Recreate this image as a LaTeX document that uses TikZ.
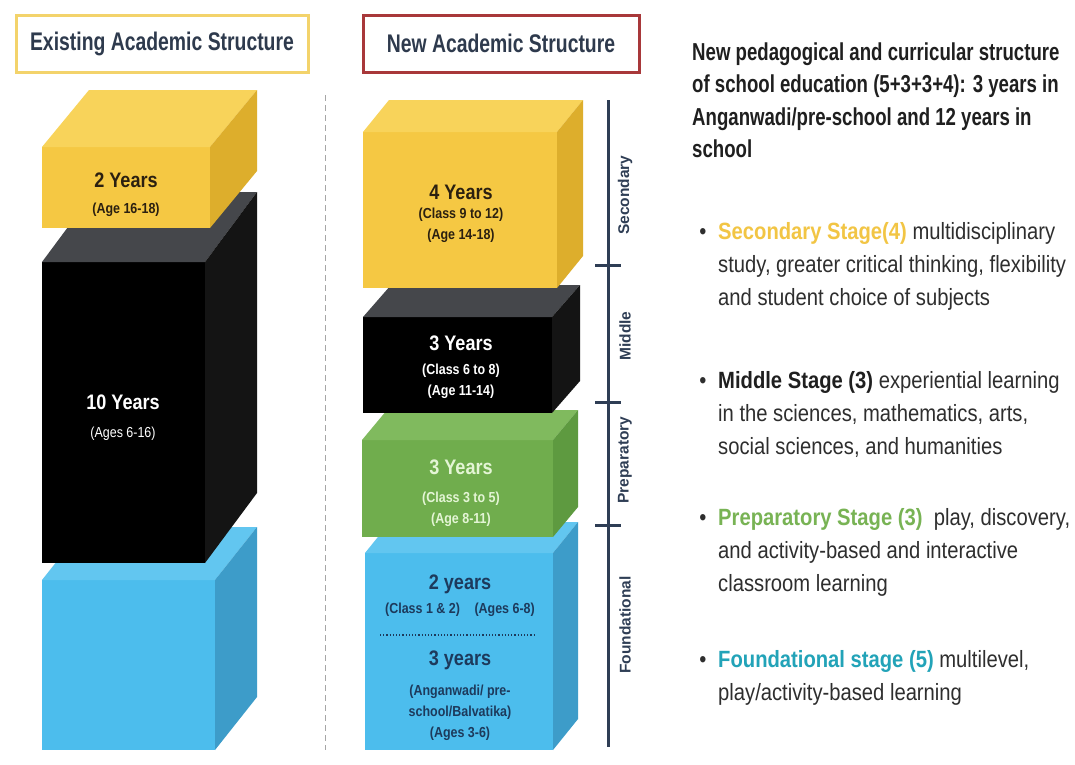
\documentclass[tikz,border=0pt]{standalone}
\usepackage{fontspec}
\setmainfont{Liberation Sans}[FakeStretch=0.86]
\newfontfamily\condfont{Liberation Sans}[FakeStretch=0.76]
\newfontfamily\axisfont{Liberation Sans}

\definecolor{hdrtext}{HTML}{2E3A4D}
\definecolor{oldframe}{HTML}{F3D36B}
\definecolor{newframe}{HTML}{A8383A}
\definecolor{ylwfront}{HTML}{F5C843}
\definecolor{ylwtop}{HTML}{F8D35A}
\definecolor{ylwside}{HTML}{DDAE2C}
\definecolor{blkfront}{HTML}{000000}
\definecolor{blktop}{HTML}{45474B}
\definecolor{blkside}{HTML}{141414}
\definecolor{blufront}{HTML}{4CBDED}
\definecolor{blutop}{HTML}{62C6F0}
\definecolor{bluside}{HTML}{3D9CC9}
\definecolor{grnfront}{HTML}{70AD4D}
\definecolor{grntop}{HTML}{80BA5E}
\definecolor{grnside}{HTML}{5E9A40}
\definecolor{ylwtext}{HTML}{2B2010}
\definecolor{blutext}{HTML}{1D3A5C}
\definecolor{grntext}{HTML}{E4F5D5}
\definecolor{axiscol}{HTML}{2F3E55}
\definecolor{bodytext}{HTML}{2E2E2E}
\definecolor{titletext}{HTML}{1F1F1F}
\definecolor{secgold}{HTML}{F2C544}
\definecolor{prepgreen}{HTML}{78B354}
\definecolor{foundteal}{HTML}{22A3B8}

\tikzset{
  hdr/.style={line width=3pt,fill=white,minimum width=292pt,minimum height=57pt,
    font=\condfont\bfseries\fontsize{25.5}{30}\selectfont,text=hdrtext},
  yrs/.style={anchor=base,inner sep=0pt,font=\bfseries\fontsize{21}{24}\selectfont},
  sub/.style={anchor=base,inner sep=0pt,align=center,font=\bfseries\fontsize{14.5}{21}\selectfont},
  stage/.style={rotate=90,inner sep=0pt,text=axiscol,font=\axisfont\bfseries\fontsize{15.5}{18}\selectfont},
  body/.style={anchor=base west,inner sep=0pt,align=left,text=bodytext,
    font=\fontsize{23.5}{33}\selectfont},
  dot/.style={anchor=base,inner sep=0pt,text=bodytext,font=\fontsize{23.5}{33}\selectfont},
}

\begin{document}
\begin{tikzpicture}[x=1pt,y=-1pt]
 \fill[white] (0,0) rectangle (1075,764);
 \useasboundingbox (0,0) rectangle (1075,764);

 % headers
 \node[hdr,draw=oldframe] (oldhdr) at (162,43.5) {Existing Academic Structure};
 \node[hdr,draw=newframe,minimum width=276pt] (newhdr) at (501,43.5) {New Academic Structure};
 \draw[gray!70,dashed,dash pattern=on 6pt off 4pt] (325,95) -- (325,750);

 % existing structure
 \fill[blufront] (42,580) rectangle (215,750);
 \fill[blutop] (42,580)--(84,527)--(257,527)--(215,580)--cycle;
 \fill[bluside] (215,580)--(257,527)--(257,697)--(215,750)--cycle;
 \fill[blkfront] (42,262) rectangle (205,563);
 \fill[blktop] (42,262)--(94,192)--(257,192)--(205,262)--cycle;
 \fill[blkside] (205,262)--(257,192)--(257,493)--(205,563)--cycle;
 \fill[ylwfront] (42,147) rectangle (210,228);
 \fill[ylwtop] (42,147)--(89,90)--(257,90)--(210,147)--cycle;
 \fill[ylwside] (210,147)--(257,90)--(257,171)--(210,228)--cycle;

 \node[yrs,text=ylwtext] (old2) at (126,187) {2 Years};
 \node[sub,text=ylwtext] (old2age) at (126,213) {(Age 16-18)};
 \node[yrs,text=white] (old10) at (123,409) {10 Years};
 \node[sub,text=white,font=\fontsize{14.5}{21}\selectfont] (old10age) at (123,437) {(Ages 6-16)};

 % new structure
 \fill[blufront] (365,553) rectangle (553,750);
 \fill[blutop] (365,553)--(390,522)--(578,522)--(553,553)--cycle;
 \fill[bluside] (553,553)--(578,522)--(578,719)--(553,750)--cycle;
 \fill[grnfront] (362,440) rectangle (553,537);
 \fill[grntop] (362,440)--(387,410)--(578,410)--(553,440)--cycle;
 \fill[grnside] (553,440)--(578,410)--(578,507)--(553,537)--cycle;
 \fill[blkfront] (363,317) rectangle (552,413);
 \fill[blktop] (363,317)--(391,285)--(580,285)--(552,317)--cycle;
 \fill[blkside] (552,317)--(580,285)--(580,381)--(552,413)--cycle;
 \fill[ylwfront] (363,132) rectangle (557,288);
 \fill[ylwtop] (363,132)--(389,100)--(583,100)--(557,132)--cycle;
 \fill[ylwside] (557,132)--(583,100)--(583,256)--(557,288)--cycle;

 \node[yrs,text=ylwtext] (sec4) at (461,199) {4 Years};
 \node[sub,text=ylwtext] (sec4cls) at (461,239) {(Class 9 to 12)\\(Age 14-18)};
 \node[yrs,text=white] (mid3) at (461,350) {3 Years};
 \node[sub,text=white] (mid3cls) at (461,395) {(Class 6 to 8)\\(Age 11-14)};
 \node[yrs,text=grntext] (prep3) at (461,474) {3 Years};
 \node[sub,text=grntext] (prep3cls) at (461,523) {(Class 3 to 5)\\(Age 8-11)};
 \node[yrs,text=blutext] (fnd2) at (460,589) {2 years};
 \node[sub,text=blutext] (fnd2cls) at (460,613) {(Class 1 \& 2)\quad(Ages 6-8)};
 \draw[blutext,dotted,line width=1.2pt] (380,635) -- (535,635);
 \node[yrs,text=blutext] (fnd3) at (460,665) {3 years};
 \node[sub,text=blutext] (fnd3cls) at (460,737) {(Anganwadi/ pre-\\school/Balvatika)\\(Ages 3-6)};

 % stage axis
 \draw[axiscol,line width=3pt] (608,100) -- (608,747);
 \draw[axiscol,line width=3pt] (595,265) -- (621,265);
 \draw[axiscol,line width=3pt] (595,402) -- (621,402);
 \draw[axiscol,line width=3pt] (595,525) -- (621,525);
 \node[stage] (secl) at (625,195) {Secondary};
 \node[stage] (midl) at (625,336) {Middle};
 \node[stage] (prepl) at (625,460) {Preparatory};
 \node[stage] (fndl) at (625,625) {Foundational};

 % description
 \node[body,text=titletext,font=\condfont\bfseries\fontsize{24.5}{32.5}\selectfont] (title) at (692,157.5)
   {New pedagogical and curricular structure\\of school education (5+3+3+4): 3 years in\\Anganwadi/pre-school and 12 years in\\school};
 \node[dot] (b1) at (703,239) {•};
 \node[body] (sec) at (718,305) {\textcolor{secgold}{\bfseries Secondary Stage(4)} multidisciplinary\\study, greater critical thinking, flexibility\\and student choice of subjects};
 \node[dot] (b2) at (703,388) {•};
 \node[body] (mid) at (718,454) {\textcolor{titletext}{\bfseries Middle Stage (3)} experiential learning\\in the sciences, mathematics, arts,\\social sciences, and humanities};
 \node[dot] (b3) at (703,525) {•};
 \node[body] (prep) at (718,591) {\textcolor{prepgreen}{\bfseries Preparatory Stage (3)}\ \ play, discovery,\\and activity-based and interactive\\classroom learning};
 \node[dot] (b4) at (703,667) {•};
 \node[body] (fnd) at (718,700) {\textcolor{foundteal}{\bfseries Foundational stage (5)} multilevel,\\play/activity-based learning};
\end{tikzpicture}
\end{document}
